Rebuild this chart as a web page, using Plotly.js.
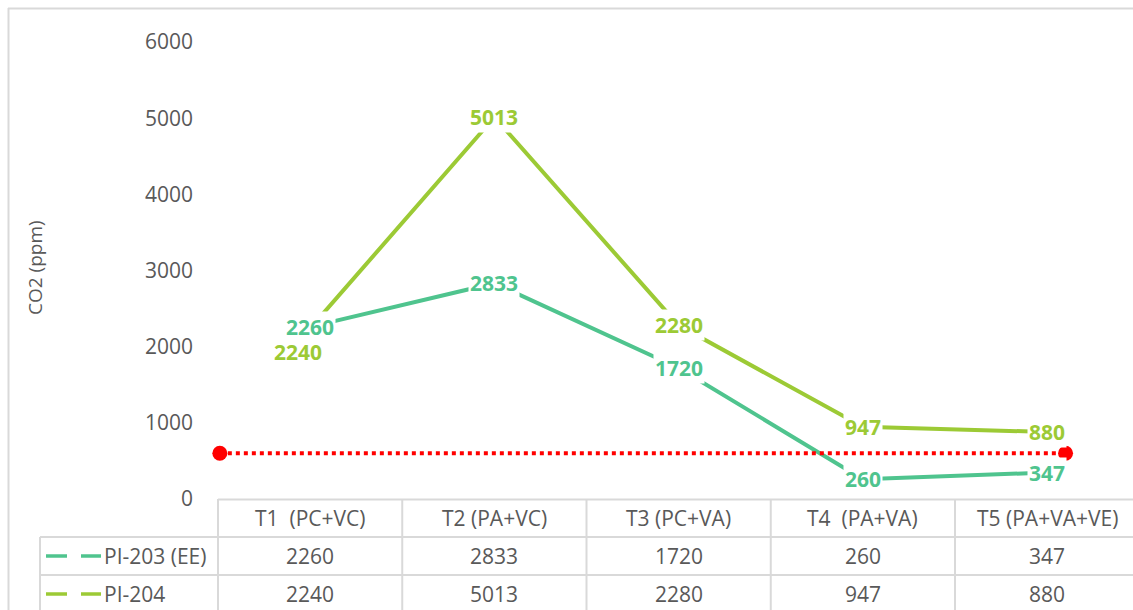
<!DOCTYPE html>
<html>
<head>
<meta charset="utf-8">
<script src="https://cdn.plot.ly/plotly-3.0.1.min.js"></script>
<style>html,body{margin:0;padding:0;background:#fff;}#chart{width:1133px;height:610px;}</style>
</head>
<body>
<div id="chart"></div>
<script>
// ---- data ----
const categories = ["T1  (PC+VC)", "T2 (PA+VC)", "T3 (PC+VA)", "T4  (PA+VA)", "T5 (PA+VA+VE)"];
const seriesNames = ["PI-203 (EE)", "PI-204"];
const pi203 = [2260, 2833, 1720, 260, 347];
const pi204 = [2240, 5013, 2280, 947, 880];
const limitX = [-0.49, 4.1];
const limitY = [600, 600];
const yTicks = [0, 1000, 2000, 3000, 4000, 5000, 6000];

// ---- style ----
const W = 1133, H = 610;
const L = 218, T = 42, B = 499;
const colW = 184.25;
const col203 = "#4fc48e", col204 = "#9cca35";
const grid = "#d9d9d9";
const txt = "#595959";
const font = "Open Sans, Noto Sans, sans-serif";
const xs = categories.map((c, i) => i);
const xRight = -0.5 + (W - L) / colW;

const px = v => (v - L) / (W - L);
const py = v => (B - v) / (B - T);

const traces = [
  {x: xs, y: pi203, type: "scatter", mode: "lines", line: {color: col203, width: 4}, name: seriesNames[0], hoverinfo: "skip"},
  {x: xs, y: pi204, type: "scatter", mode: "lines", line: {color: col204, width: 4}, name: seriesNames[1], hoverinfo: "skip"},
  {x: limitX, y: limitY, type: "scatter", mode: "lines+markers", cliponaxis: false, line: {color: "#ff0000", width: 4, dash: "dot"},
   marker: {color: "#ff0000", size: 15}, hoverinfo: "skip"}
];

const shapes = [];
const ann = [];
function hline(y, x0, x1) { shapes.push({type: "line", xref: "paper", yref: "paper", x0: px(x0), x1: px(x1), y0: py(y), y1: py(y), line: {color: grid, width: 2}}); }
function vline(x, y0, y1) { shapes.push({type: "line", xref: "paper", yref: "paper", x0: px(x), x1: px(x), y0: py(y0), y1: py(y1), line: {color: grid, width: 2}}); }

// outer border
hline(8.5, 8, W + 5);
vline(8.5, 8, H + 5);
// table
hline(499.5, L, W + 5);
hline(537, 40, W + 5);
hline(575, 40, W + 5);
vline(40, 537, H + 5);
for (let i = 0; i <= categories.length; i++) vline(L + i * colW, 499, H + 5);

const tf = {family: font, size: 21, color: txt};
const rowsY = [556, 594];
const sCols = [col203, col204];
const rowVals = [pi203, pi204];
categories.forEach((c, i) => {
  ann.push({xref: "x", yref: "paper", x: i, y: py(518), xanchor: "center", yanchor: "middle", text: c, showarrow: false, font: tf});
});
rowVals.forEach((vals, r) => {
  vals.forEach((v, i) => {
    ann.push({xref: "x", yref: "paper", x: i, y: py(rowsY[r]), xanchor: "center", yanchor: "middle", text: String(v), showarrow: false, font: tf});
  });
  ann.push({xref: "paper", yref: "paper", x: px(102), y: py(rowsY[r]), xanchor: "left", yanchor: "middle", text: seriesNames[r], showarrow: false, font: tf});
  shapes.push({type: "line", xref: "paper", yref: "paper", x0: px(46), x1: px(67), y0: py(rowsY[r]), y1: py(rowsY[r]), line: {color: sCols[r], width: 3.5}});
  shapes.push({type: "line", xref: "paper", yref: "paper", x0: px(81), x1: px(101), y0: py(rowsY[r]), y1: py(rowsY[r]), line: {color: sCols[r], width: 3.5}});
});

// data labels
const lblFont = c => ({family: font, size: 21, color: c, weight: "bold"});
pi203.forEach((v, i) => ann.push({xref: "x", yref: "y", x: i, y: v, xanchor: "center", yanchor: "middle", text: "<b>" + v + "</b>", showarrow: false, bgcolor: "#fff", borderpad: 1, font: lblFont(col203)}));
pi204.forEach((v, i) => {
  const a = {xref: "x", yref: "y", x: i, y: v, xanchor: "center", yanchor: "middle", text: "<b>" + v + "</b>", showarrow: false, bgcolor: "#fff", borderpad: 1, font: lblFont(col204)};
  if (i === 0) { a.xshift = -12; a.yshift = -24; }
  ann.push(a);
});

// y title
ann.push({xref: "paper", yref: "paper", x: px(35), y: py(268), xanchor: "center", yanchor: "middle", text: "CO2 (ppm)", textangle: -90, showarrow: false, font: {family: font, size: 19, color: txt}});

const layout = {
  width: W, height: H,
  margin: {l: L, r: 0, t: T, b: H - B, pad: 0},
  paper_bgcolor: "#fff", plot_bgcolor: "#fff",
  showlegend: false,
  xaxis: {range: [-0.5, xRight], showgrid: false, zeroline: false, showline: false, showticklabels: false, ticks: "", fixedrange: true},
  yaxis: {range: [0, 6000], tickvals: yTicks, showgrid: false, zeroline: false, showline: false, ticks: "",
          ticklabelstandoff: 24, tickfont: {family: font, size: 21, color: txt}, fixedrange: true},
  shapes: shapes,
  annotations: ann
};

Plotly.newPlot("chart", traces, layout, {displayModeBar: false, staticPlot: true});
</script>
</body>
</html>
